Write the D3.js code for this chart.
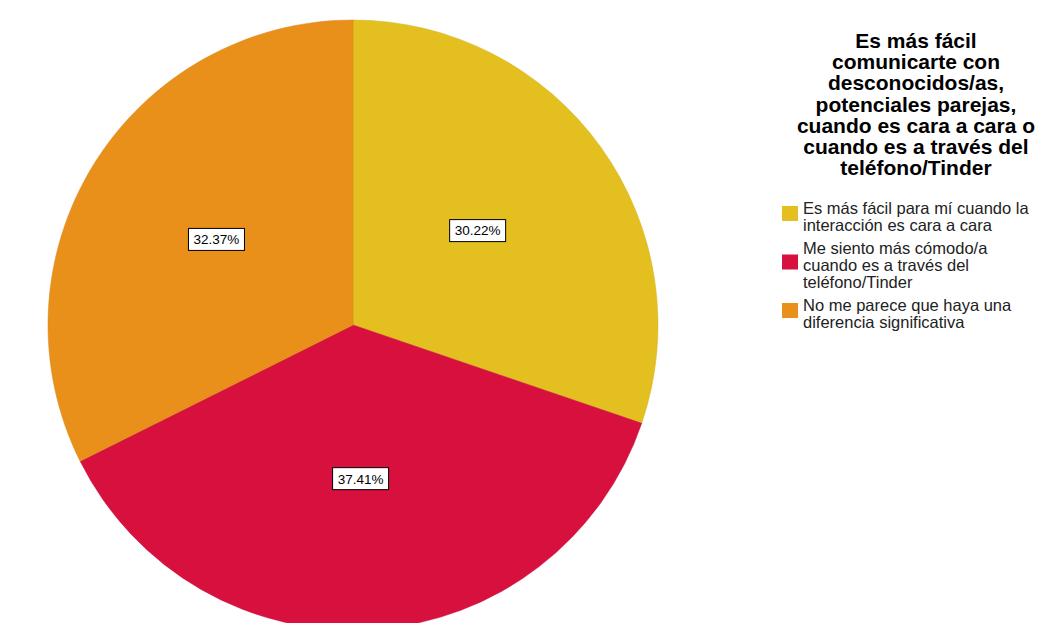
<!DOCTYPE html>
<meta charset="utf-8">
<style>
  body { margin: 0; background: #fff; }
  svg { display: block; }
  .title { font-family: "Liberation Sans", Arial, sans-serif; font-weight: bold; font-size: 21px; fill: #000; }
  .legend text { font-family: "Liberation Sans", Arial, sans-serif; font-size: 16.5px; fill: #222; }
  .lbl { font-family: "Liberation Sans", Arial, sans-serif; font-size: 13.5px; fill: #000; }
</style>
<body>
<script src="https://cdn.jsdelivr.net/npm/d3@7"></script>
<script>
// data
const categories = [
  'Es más fácil para mí cuando la interacción es cara a cara',
  'Me siento más cómodo/a cuando es a través del teléfono/Tinder',
  'No me parece que haya una diferencia significativa'
];
const values = [30.22, 37.41, 32.37];
const colors = ['#e3c01f', '#d8103e', '#e8901a'];
const titleLines = [
  'Es más fácil',
  'comunicarte con',
  'desconocidos/as,',
  'potenciales parejas,',
  'cuando es cara a cara o',
  'cuando es a través del',
  'teléfono/Tinder'
];
const legendLines = [
  ['Es más fácil para mí cuando la', 'interacción es cara a cara'],
  ['Me siento más cómodo/a', 'cuando es a través del', 'teléfono/Tinder'],
  ['No me parece que haya una', 'diferencia significativa']
];

const width = 1059, height = 623;
const cx = 353, cy = 325, radius = 305;

const svg = d3.select('body').append('svg')
  .attr('width', width)
  .attr('height', height);

const color = d3.scaleOrdinal().domain(categories).range(colors);

const pie = d3.pie().sort(null).value(d => d.v);
const arcs = pie(categories.map((c, i) => ({ c: c, v: values[i] })));
const arc = d3.arc().innerRadius(0).outerRadius(radius);
const labelArc = d3.arc().innerRadius(157).outerRadius(157);

const g = svg.append('g').attr('transform', `translate(${cx},${cy})`);

g.selectAll('path')
  .data(arcs)
  .enter().append('path')
    .attr('d', arc)
    .attr('fill', d => color(d.data.c))
    .attr('stroke', d => d3.color(color(d.data.c)).darker(0.2))
    .attr('stroke-width', 0.5);

// percentage labels with boxes
const lbl = g.selectAll('g.lbl-g')
  .data(arcs)
  .enter().append('g')
    .attr('class', 'lbl-g')
    .attr('transform', d => {
      const c = labelArc.centroid(d);
      return `translate(${c[0] - 3},${c[1] - 3})`;
    });

lbl.append('rect')
  .attr('x', -28).attr('y', -11)
  .attr('width', 56).attr('height', 22)
  .attr('fill', '#fff')
  .attr('stroke', '#000')
  .attr('stroke-width', 1);

lbl.append('text')
  .attr('class', 'lbl')
  .attr('text-anchor', 'middle')
  .attr('dy', '0.36em')
  .text(d => d.data.v.toFixed(2) + '%');

// title
svg.append('text')
  .attr('class', 'title')
  .attr('text-anchor', 'middle')
  .selectAll('tspan')
  .data(titleLines)
  .enter().append('tspan')
    .attr('x', 916)
    .attr('y', (d, i) => 48 + i * 21.2)
    .text(d => d);

// legend
const legend = svg.append('g').attr('class', 'legend');
const lineH = 17, itemGap = 6;
let y0 = 214;
legendLines.forEach((lines, i) => {
  const item = legend.append('g');
  item.selectAll('text')
    .data(lines)
    .enter().append('text')
      .attr('x', 803)
      .attr('y', (d, j) => y0 + j * lineH)
      .text(d => d);
  const mid = y0 + (lines.length - 1) * lineH / 2 - 9;
  item.append('rect')
    .attr('x', 782).attr('y', mid - 7.5)
    .attr('width', 16).attr('height', 15)
    .attr('fill', colors[i]);
  y0 += lines.length * lineH + itemGap;
});
</script>
</body>
